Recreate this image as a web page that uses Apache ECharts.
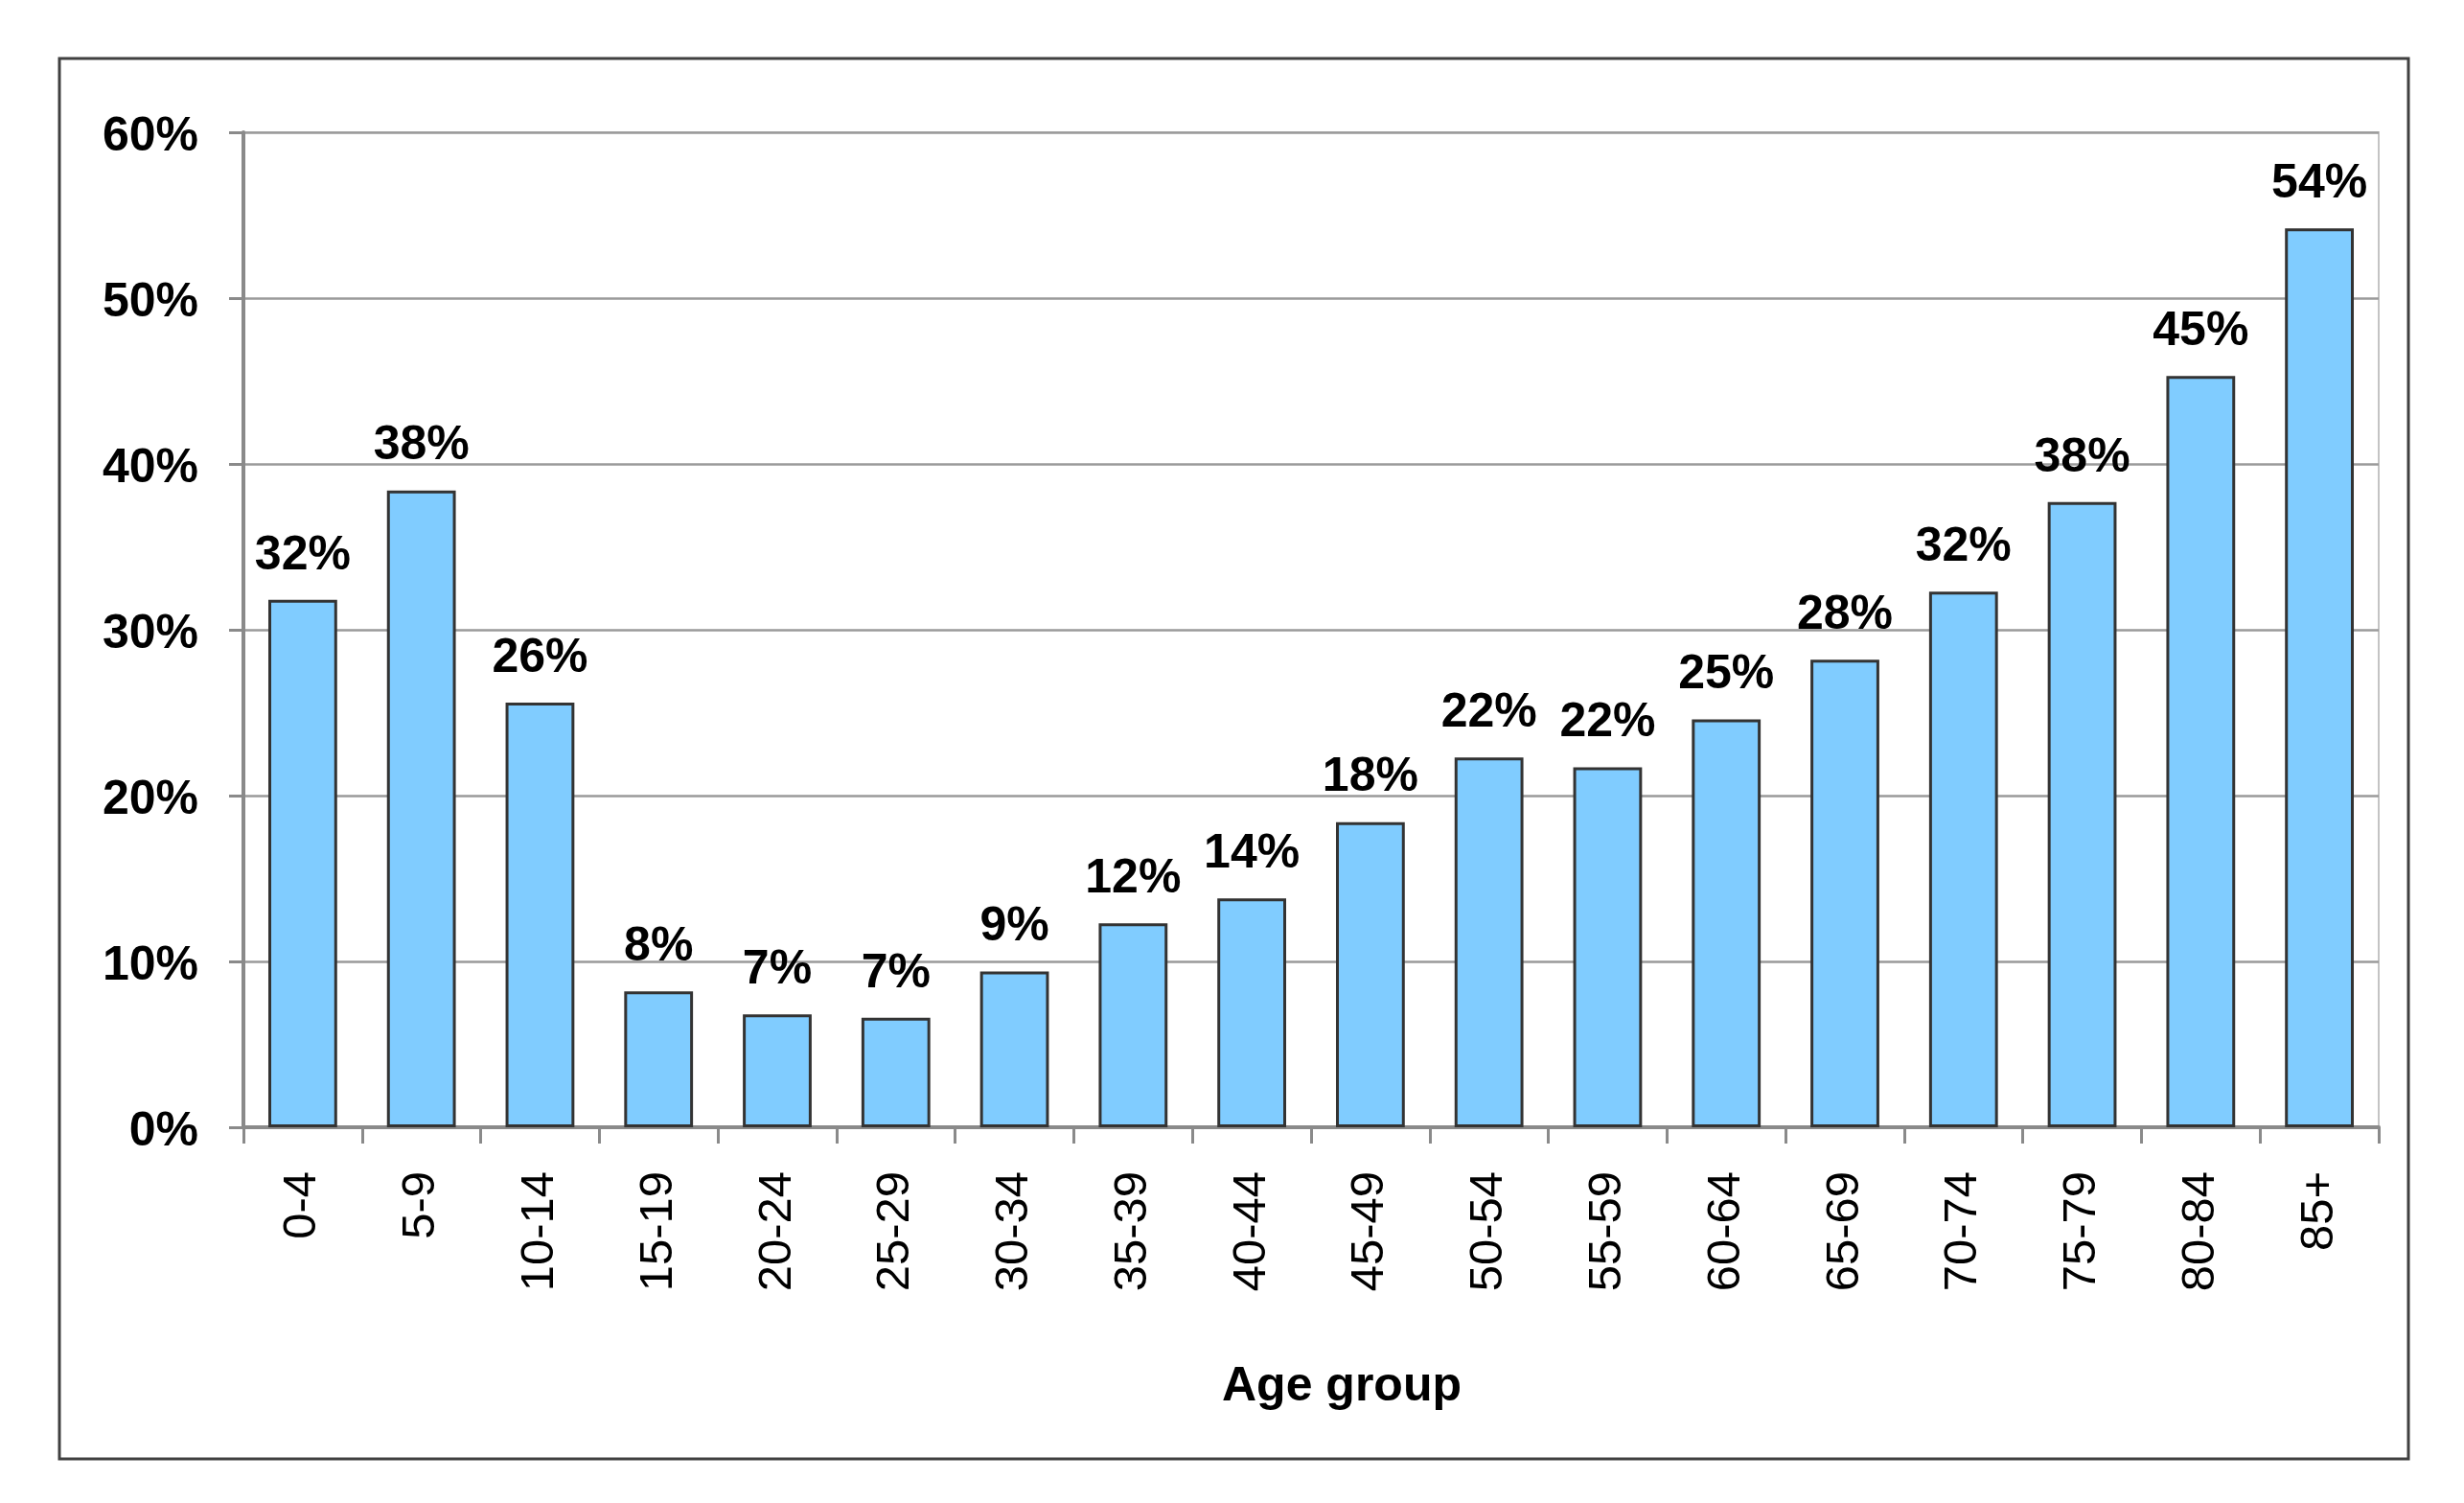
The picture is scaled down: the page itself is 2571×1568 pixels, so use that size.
<!DOCTYPE html>
<html>
<head>
<meta charset="utf-8">
<script src="https://cdn.jsdelivr.net/npm/echarts@6/dist/echarts.min.js"></script>
<style>
html,body{margin:0;padding:0;background:#fff;}
#chart{width:2571px;height:1568px;}
</style>
</head>
<body>
<div id="chart"></div>
<script>
const categories = ['0-4','5-9','10-14','15-19','20-24','25-29','30-34','35-39','40-44','45-49','50-54','55-59','60-64','65-69','70-74','75-79','80-84','85+'];
const values = [31.8, 38.4, 25.6, 8.2, 6.8, 6.6, 9.4, 12.3, 13.8, 18.4, 22.3, 21.7, 24.6, 28.2, 32.3, 37.7, 45.3, 54.2];
const yTicks = [0, 10, 20, 30, 40, 50, 60];
const xAxisTitle = 'Age group';

const sans = '"Liberation Sans", Arial, Helvetica, sans-serif';

const chart = echarts.init(document.getElementById('chart'), null, {renderer: 'canvas'});
chart.setOption({
  animation: false,
  backgroundColor: '#ffffff',
  graphic: [{
    type: 'rect',
    shape: {x: 62, y: 61, width: 2451, height: 1461},
    style: {fill: 'none', stroke: '#404040', lineWidth: 3},
    silent: true
  }],
  grid: {
    left: 254, right: 89, top: 138, bottom: 392,
    show: true, borderColor: '#c4c4c4', borderWidth: 2, backgroundColor: 'transparent'
  },
  xAxis: {
    type: 'category',
    data: categories,
    boundaryGap: true,
    axisLine: {show: true, lineStyle: {color: '#8a8a8a', width: 4}},
    axisTick: {show: true, alignWithLabel: false, length: 17, lineStyle: {color: '#8a8a8a', width: 3}},
    axisLabel: {rotate: 90, margin: 46, fontFamily: sans, fontSize: 49, color: '#000'},
    name: xAxisTitle,
    nameLocation: 'middle',
    nameGap: 271,
    nameTextStyle: {fontFamily: sans, fontWeight: 'bold', fontSize: 50, color: '#000', verticalAlign: 'middle', padding: [0, 0, 0, 64]}
  },
  yAxis: {
    type: 'value',
    min: yTicks[0],
    max: yTicks[yTicks.length - 1],
    interval: yTicks[1] - yTicks[0],
    axisLine: {show: true, lineStyle: {color: '#8a8a8a', width: 4}},
    axisTick: {show: true, length: 15, lineStyle: {color: '#8a8a8a', width: 3}},
    axisLabel: {margin: 47, verticalAlign: 'top', lineHeight: 10, fontFamily: sans, fontWeight: 'bold', fontSize: 50, color: '#000', formatter: v => v + '%'},
    splitLine: {show: true, lineStyle: {color: '#9a9a9a', width: 2.5}}
  },
  series: [{
    type: 'bar',
    data: values,
    barCategoryGap: '42%',
    itemStyle: {color: '#80CCFF', borderColor: '#333333', borderWidth: 3},
    label: {
      show: true, position: 'top', distance: 21,
      fontFamily: sans, fontWeight: 'bold', fontSize: 50, color: '#000',
      formatter: p => Math.round(p.value) + '%'
    }
  }]
});
</script>
</body>
</html>
